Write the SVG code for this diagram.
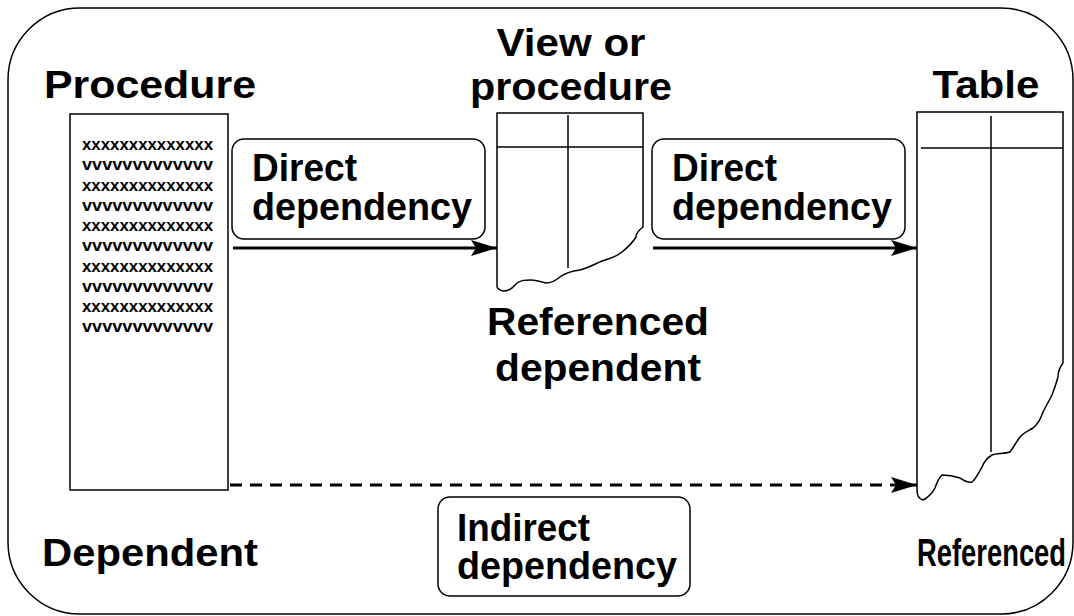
<svg xmlns="http://www.w3.org/2000/svg" width="1074" height="616" viewBox="0 0 1074 616">
<style>
.lbl{font-family:"Liberation Sans",Arial,sans-serif;font-weight:bold;font-size:38px;fill:#000}
.code{font-family:"Liberation Sans",Arial,sans-serif;font-weight:bold;font-size:16px;fill:#000}
.edge{fill:none;stroke:#000;stroke-width:1.5}
.thin{fill:none;stroke:#000;stroke-width:1.5}
.conn{fill:none;stroke:#000;stroke-width:3}
</style>
<defs>
<marker id="ah" markerUnits="userSpaceOnUse" markerWidth="28" markerHeight="18" refX="26" refY="8" orient="auto">
<path d="M0,0 L26,8 L0,16 L5,8 Z" fill="#000"/>
</marker>
</defs>
<rect x="8" y="8" width="1065" height="606" rx="72" ry="72" fill="#fff" stroke="#000" stroke-width="1.5"/>

<g id="procedure">
<text class="lbl" x="44" y="98" textLength="212" lengthAdjust="spacingAndGlyphs">Procedure</text>
<rect x="70" y="114" width="158" height="376" fill="#fff" class="edge"/>
<g class="code">
<text x="82" y="150" textLength="131" lengthAdjust="spacingAndGlyphs">xxxxxxxxxxxxxx</text>
<text x="82" y="170" textLength="131" lengthAdjust="spacingAndGlyphs">vvvvvvvvvvvvv</text>
<text x="82" y="191" textLength="131" lengthAdjust="spacingAndGlyphs">xxxxxxxxxxxxxx</text>
<text x="82" y="211" textLength="131" lengthAdjust="spacingAndGlyphs">vvvvvvvvvvvvv</text>
<text x="82" y="231" textLength="131" lengthAdjust="spacingAndGlyphs">xxxxxxxxxxxxxx</text>
<text x="82" y="251" textLength="131" lengthAdjust="spacingAndGlyphs">vvvvvvvvvvvvv</text>
<text x="82" y="272" textLength="131" lengthAdjust="spacingAndGlyphs">xxxxxxxxxxxxxx</text>
<text x="82" y="292" textLength="131" lengthAdjust="spacingAndGlyphs">vvvvvvvvvvvvv</text>
<text x="82" y="312" textLength="131" lengthAdjust="spacingAndGlyphs">xxxxxxxxxxxxxx</text>
<text x="82" y="332" textLength="131" lengthAdjust="spacingAndGlyphs">vvvvvvvvvvvvv</text>
</g>
<text class="lbl" x="42" y="566" textLength="216" lengthAdjust="spacingAndGlyphs">Dependent</text>
</g>

<g id="view">
<text class="lbl" x="571" y="56" text-anchor="middle" textLength="149" lengthAdjust="spacingAndGlyphs">View or</text>
<text class="lbl" x="571" y="100" text-anchor="middle" textLength="202" lengthAdjust="spacingAndGlyphs">procedure</text>
<path class="edge" fill="#fff" d="M497,113 L643,113 L643,227 C639,230 636,233 636,237 C633,242 627,248 622,252 C616,257 609,259 602,261 C595,264 588,268 580,270 C572,271 565,273 560,277 C555,281 551,283 546,283 C541,282 536,280 531,280 C525,280 519,280 515,285 C512,289 508,291 503,291 C499,290 497,289 497,286 Z"/>
<line class="thin" x1="497" y1="147" x2="643" y2="147"/>
<line class="thin" x1="568" y1="115" x2="568" y2="268"/>
<text class="lbl" x="598" y="335" text-anchor="middle" textLength="222" lengthAdjust="spacingAndGlyphs">Referenced</text>
<text class="lbl" x="598" y="381" text-anchor="middle" textLength="206" lengthAdjust="spacingAndGlyphs">dependent</text>
</g>

<g id="table">
<text class="lbl" x="986" y="98" text-anchor="middle" textLength="107" lengthAdjust="spacingAndGlyphs">Table</text>
<path class="edge" fill="#fff" d="M917,112 L1063,112 L1063,363 C1060,367 1058,372 1058,377 C1056,384 1054,390 1052,395 C1049,401 1046,406 1043,412 C1041,418 1038,424 1033,428 C1028,431 1023,433 1020,437 C1017,441 1013,448 1010,452 C1004,454 997,453 992,455 C987,458 984,462 982,467 C979,472 976,479 972,482 C967,483 963,480 960,478 C954,476 947,475 942,475 C938,479 936,485 935,488 C933,492 928,498 923,500 C919,499 917,495 917,490 Z"/>
<line class="thin" x1="921" y1="148" x2="1063" y2="148"/>
<line class="thin" x1="991" y1="116" x2="991" y2="452"/>
<text class="lbl" transform="translate(917,566) scale(0.72,1)" x="0" y="0">Referenced</text>
</g>

<g id="label-direct-1">
<rect x="232" y="139" width="253" height="100" rx="12" ry="12" class="edge" fill="#fff"/>
<text class="lbl" x="252" y="181" textLength="105" lengthAdjust="spacingAndGlyphs">Direct</text>
<text class="lbl" x="252" y="220" textLength="220" lengthAdjust="spacingAndGlyphs">dependency</text>
</g>
<g id="label-direct-2">
<rect x="652" y="139" width="253" height="100" rx="12" ry="12" class="edge" fill="#fff"/>
<text class="lbl" x="672" y="181" textLength="105" lengthAdjust="spacingAndGlyphs">Direct</text>
<text class="lbl" x="672" y="220" textLength="220" lengthAdjust="spacingAndGlyphs">dependency</text>
</g>
<g id="label-indirect">
<rect x="438" y="497" width="252" height="99" rx="12" ry="12" class="edge" fill="#fff"/>
<text class="lbl" x="457" y="541" textLength="133" lengthAdjust="spacingAndGlyphs">Indirect</text>
<text class="lbl" x="457" y="579" textLength="220" lengthAdjust="spacingAndGlyphs">dependency</text>
</g>

<g id="connectors">
<line class="conn" x1="233" y1="248" x2="497" y2="248" marker-end="url(#ah)"/>
<line class="conn" x1="653" y1="248" x2="917" y2="248" marker-end="url(#ah)"/>
<line class="conn" x1="230" y1="485" x2="917" y2="485" stroke-dasharray="12 8" stroke-width="2.5" marker-end="url(#ah)"/>
</g>
</svg>
